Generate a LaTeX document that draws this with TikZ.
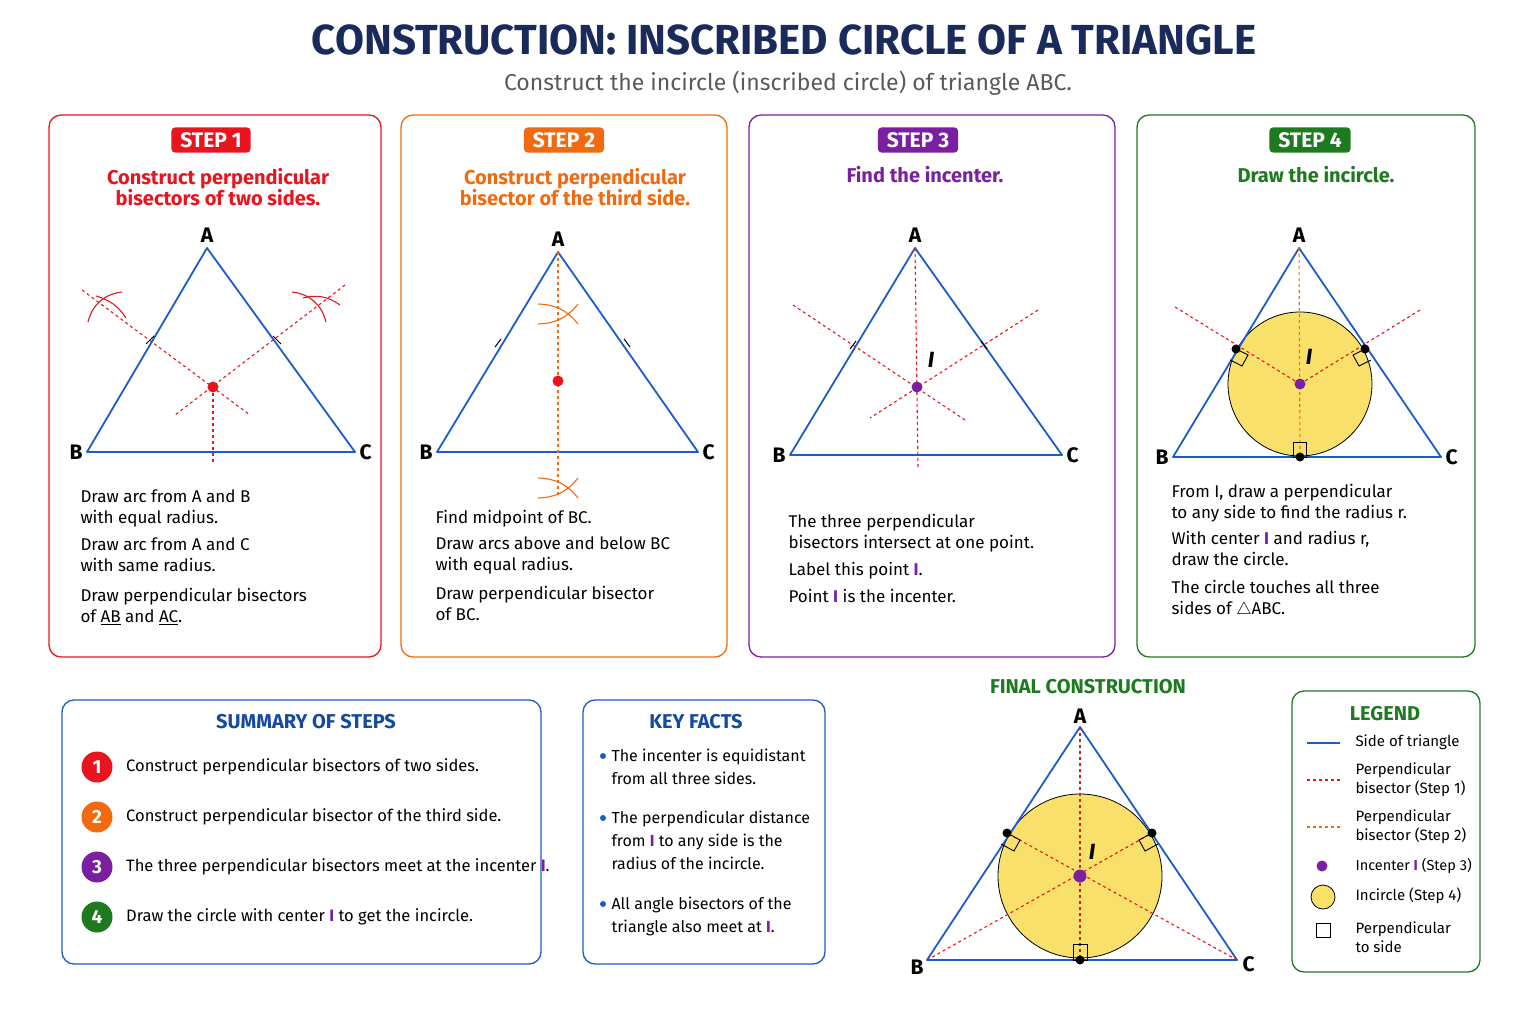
\documentclass[tikz,border=0pt]{standalone}
\usepackage{fontspec}
\setmainfont{Fira Sans}
\usetikzlibrary{positioning}
\definecolor{navy}{HTML}{1A2A5A}
\definecolor{sideblue}{HTML}{1A5CC8}
\definecolor{stepred}{HTML}{E8141E}
\definecolor{steporange}{HTML}{F26A10}
\definecolor{steppurple}{HTML}{7A1FA2}
\definecolor{stepgreen}{HTML}{1E7A1E}
\definecolor{incircle}{HTML}{F8E06A}
\newcommand{\fs}[1]{\fontsize{#1}{#1}\selectfont}
\newcommand{\Ipt}{\textcolor{steppurple}{\textbf{I}}}
\tikzset{
	panel/.style = {draw=#1, rounded corners=12pt, line width=1.3pt},
	badge/.style = {fill=#1, rounded corners=4pt, text=white, font=\fs{21}\bfseries, inner xsep=9pt, inner ysep=5pt},
	heading/.style = {text=#1, font=\fs{20}\bfseries, align=center},
	side/.style = {draw=sideblue, line width=1.8pt, line join=round},
	bisA/.style = {draw=stepred, dashed, line width=1.1pt},
	bisB/.style = {draw=steporange, dashed, line width=1.1pt},
	arcline/.style = {draw=#1, line width=1.1pt},
	vlabel/.style = {font=\fs{21}\bfseries},
	body/.style = {anchor=north west, align=left, font=\fontsize{17}{21}\selectfont},
	tdot/.style = {circle, fill=black, inner sep=0pt, minimum size=9pt},
	cdot/.style = {circle, fill=#1, inner sep=0pt, minimum size=11pt},
	num/.style = {circle, fill=#1, text=white, font=\fs{19}\bfseries, inner sep=0pt, minimum size=31pt},
	small/.style = {anchor=west, align=left, font=\fontsize{15}{19}\selectfont},
	fact/.style = {anchor=north west, align=left, font=\fontsize{16}{23}\selectfont},
}
\begin{document}
\begin{tikzpicture}[x=1pt, y=-1pt]
	\useasboundingbox (0,0) rectangle (1536,1024);
	% title
	\node[text=navy, font=\fs{42}\bfseries] (title) at (784,40) {CONSTRUCTION: INSCRIBED CIRCLE OF A TRIANGLE};
	\node[text=black!65, font=\fs{23}] (subtitle) at (788,83) {Construct the incircle (inscribed circle) of triangle ABC.};

	% panels
	\draw[panel=stepred] (49,115) rectangle (381,657);
	\draw[panel=steporange] (401,115) rectangle (727,657);
	\draw[panel=steppurple] (749,115) rectangle (1115,657);
	\draw[panel=stepgreen] (1137,115) rectangle (1475,657);
	\node[badge=stepred] (s1) at (211,140) {STEP 1};
	\node[badge=steporange] (s2) at (564,140) {STEP 2};
	\node[badge=steppurple] (s3) at (918,140) {STEP 3};
	\node[badge=stepgreen] (s4) at (1310,140) {STEP 4};
	\node[heading=stepred] at (218,187) {Construct perpendicular\\bisectors of two sides.};
	\node[heading=steporange] at (575,187) {Construct perpendicular\\bisector of the third side.};
	\node[heading=steppurple] at (925,175) {Find the incenter.};
	\node[heading=stepgreen] at (1316,175) {Draw the incircle.};

	% step 1
	\coordinate (a1) at (207,248); \coordinate (b1) at (87,452); \coordinate (c1) at (355,452);
	\draw[side] (a1) -- (b1) -- (c1) -- cycle;
	\node[vlabel, above=2pt of a1] {A};
	\node[vlabel, left=1pt of b1] {B};
	\node[vlabel, right=1pt of c1] {C};
	\coordinate (o1) at (213,387);
	\draw[bisA] (82,290) -- (250,415);
	\draw[bisA] (345,285) -- (175,415);
	\draw[bisA] (o1) -- (213,462);
	\node[cdot=stepred] at (o1) {};
	\draw[arcline=stepred] (88,322) to[bend left=35] (122,292);
	\draw[arcline=stepred] (96,296) to[bend left=20] (126,318);
	\draw[arcline=stepred] (292,292) to[bend left=35] (326,322);
	\draw[arcline=stepred] (303,298) to[bend left=25] (340,305);
	\draw[line width=1pt] (146,344) -- (154,336);
	\draw[line width=1pt] (273,336) -- (281,344);
	\node[body] at (77,486) {Draw arc from A and B\\with equal radius.};
	\node[body] at (77,534) {Draw arc from A and C\\with same radius.};
	\node[body] at (77,585) {Draw perpendicular bisectors\\of \underline{AB} and \underline{AC}.};

	% step 2
	\coordinate (a2) at (558,252); \coordinate (b2) at (437,452); \coordinate (c2) at (698,452);
	\draw[side] (a2) -- (b2) -- (c2) -- cycle;
	\node[vlabel, above=2pt of a2] {A};
	\node[vlabel, left=1pt of b2] {B};
	\node[vlabel, right=1pt of c2] {C};
	\draw[bisB] (a2) -- (558,498);
	\draw[arcline=steporange] (538,304) to[bend left=25] (578,324);
	\draw[arcline=steporange] (538,324) to[bend right=25] (578,304);
	\draw[arcline=steporange] (538,478) to[bend left=25] (578,498);
	\draw[arcline=steporange] (538,498) to[bend right=25] (578,478);
	\node[cdot=stepred] at (558,381) {};
	\draw[line width=1pt] (495,347) -- (501,339);
	\draw[line width=1pt] (624,339) -- (630,347);
	\node[body] at (432,507) {Find midpoint of BC.};
	\node[body] at (432,533) {Draw arcs above and below BC\\with equal radius.};
	\node[body] at (432,583) {Draw perpendicular bisector\\of BC.};

	% step 3
	\coordinate (a3) at (915,248); \coordinate (b3) at (790,455); \coordinate (c3) at (1062,455);
	\draw[side] (a3) -- (b3) -- (c3) -- cycle;
	\node[vlabel, above=2pt of a3] {A};
	\node[vlabel, left=1pt of b3] {B};
	\node[vlabel, right=1pt of c3] {C};
	\coordinate (i3) at (917,387);
	\draw[bisA] (a3) -- (918,467);
	\draw[bisA] (793,305) -- (965,420);
	\draw[bisA] (1038,310) -- (870,418);
	\node[cdot=steppurple] at (i3) {};
	\node[font=\fs{22}\bfseries\itshape] at (931,360) {I};
	\draw[line width=1pt] (850,349) -- (856,341);
	\draw[line width=1pt] (981,341) -- (987,349);
	\node[body] at (785,511) {The three perpendicular\\bisectors intersect at one point.};
	\node[body] at (785,559) {Label this point \Ipt.};
	\node[body] at (785,586) {Point \Ipt\ is the incenter.};

	% step 4
	\coordinate (a4) at (1299,248); \coordinate (b4) at (1173,457); \coordinate (c4) at (1441,457);
	\coordinate (i4) at (1300,384);
	\fill[incircle, draw=black, line width=0.8pt] (i4) circle (72);
	\draw[side] (a4) -- (b4) -- (c4) -- cycle;
	\node[vlabel, above=2pt of a4] {A};
	\node[vlabel, left=1pt of b4] {B};
	\node[vlabel, right=1pt of c4] {C};
	\draw[bisB] (a4) -- (1300,457);
	\draw[bisA] (1175,307) -- (i4);
	\draw[bisA] (1420,310) -- (i4);
	\draw[line width=0.9pt] (1293,457) rectangle (1306,442);
	\draw[line width=0.9pt] (1236,349) -- ++(12,6) -- ++(-6,11) -- ++(-12,-6);
	\draw[line width=0.9pt] (1365,349) -- ++(-12,6) -- ++(6,11) -- ++(12,-6);
	\node[tdot] at (1236,349) {};
	\node[tdot] at (1365,349) {};
	\node[tdot] at (1300,457) {};
	\node[cdot=steppurple] at (i4) {};
	\node[font=\fs{22}\bfseries\itshape] at (1309,357) {I};
	\node[body] at (1168,481) {From I, draw a perpendicular\\to any side to find the radius r.};
	\node[body] at (1168,528) {With center \Ipt\ and radius r,\\draw the circle.};
	\node[body] at (1168,577) {The circle touches all three\\sides of $\triangle$ABC.};

	% summary
	\draw[panel=sideblue] (62,700) rectangle (541,964);
	\node[text=sideblue!80!black, font=\fs{20}\bfseries] at (306,722) {SUMMARY OF STEPS};
	\foreach \k/\c/\t [count=\n] in {0/stepred/Construct perpendicular bisectors of two sides.,
		50/steporange/Construct perpendicular bisector of the third side.,
		100/steppurple/The three perpendicular bisectors meet at the incenter \Ipt.,
		150/stepgreen/Draw the circle with center \Ipt\ to get the incircle.} {
		\node[num=\c] (n\n) at (97,767+\k) {\n};
		\node[anchor=west, font=\fs{16.5}, right=10pt of n\n] {\t};
	}

	% key facts
	\draw[panel=sideblue] (583,700) rectangle (825,964);
	\node[text=sideblue!80!black, font=\fs{20}\bfseries] at (696,722) {KEY FACTS};
	\foreach \y/\t in {745/The incenter is equidistant\\from all three sides.,
		807/The perpendicular distance\\from \Ipt\ to any side is the\\radius of the incircle.,
		893/All angle bisectors of the\\triangle also meet at \Ipt.} {
		\fill[sideblue] (603,\y+11) circle (3);
		\node[fact] at (608,\y) {\t};
	}

	% final construction
	\node[text=stepgreen, font=\fs{20}\bfseries] at (1088,687) {FINAL CONSTRUCTION};
	\coordinate (af) at (1080,727); \coordinate (bf) at (927,960); \coordinate (cf) at (1237,960);
	\coordinate (ifc) at (1080,876);
	\coordinate (tl) at (1007,833); \coordinate (tr) at (1152,833); \coordinate (tb) at (1080,960);
	\fill[incircle, draw=black, line width=0.8pt] (ifc) circle (82);
	\draw[side] (af) -- (bf) -- (cf) -- cycle;
	\node[vlabel, above=0pt of af] {A};
	\node[vlabel, left=0pt of bf, yshift=-7pt] {B};
	\node[vlabel, right=2pt of cf, yshift=-4pt] {C};
	\draw[bisA] (af) -- (tb);
	\draw[bisA] (bf) -- (tr);
	\draw[bisA] (cf) -- (tl);
	\draw[line width=0.9pt] (1073,960) rectangle (1087,944);
	\draw[line width=0.9pt] (tl) -- ++(13,7) -- ++(-6,11) -- ++(-13,-7);
	\draw[line width=0.9pt] (tr) -- ++(-13,7) -- ++(6,11) -- ++(13,-7);
	\node[tdot] at (tl) {};
	\node[tdot] at (tr) {};
	\node[tdot] at (tb) {};
	\node[cdot=steppurple, minimum size=13pt] at (ifc) {};
	\node[font=\fs{22}\bfseries\itshape] at (1092,852) {I};

	% legend
	\draw[panel=stepgreen] (1292,691) rectangle (1480,972);
	\node[text=stepgreen, font=\fs{20}\bfseries] at (1385,714) {LEGEND};
	\draw[side] (1307,743) -- (1340,743);
	\node[small] at (1352,742) {Side of triangle};
	\draw[bisA] (1307,780) -- (1340,780);
	\node[small] at (1352,780) {Perpendicular\\bisector (Step 1)};
	\draw[bisB] (1307,827) -- (1340,827);
	\node[small] at (1352,827) {Perpendicular\\bisector (Step 2)};
	\node[cdot=steppurple] at (1322,866) {};
	\node[small, font=\fs{14.5}] at (1352,866) {Incenter \Ipt\ (Step 3)};
	\fill[incircle, draw=black, line width=0.8pt] (1323,897) circle (12);
	\node[small] at (1352,896) {Incircle (Step 4)};
	\draw[line width=1pt] (1316,923) rectangle (1330,937);
	\node[small] at (1352,937) {Perpendicular\\to side};
\end{tikzpicture}
\end{document}
